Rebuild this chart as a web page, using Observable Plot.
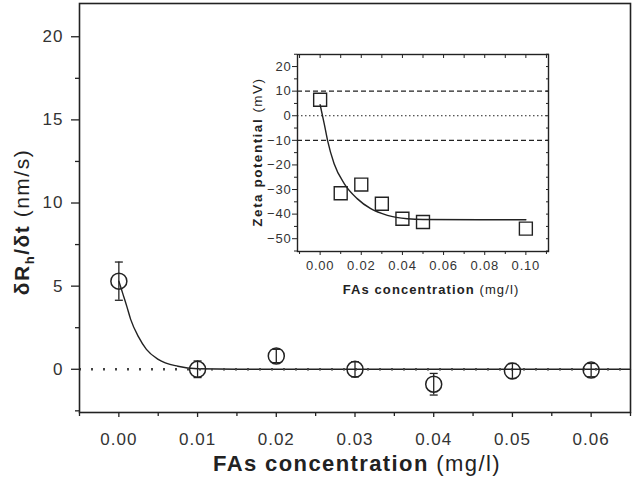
<!DOCTYPE html>
<html><head><meta charset="utf-8">
<script src="https://cdn.jsdelivr.net/npm/d3@7"></script>
<script src="https://cdn.jsdelivr.net/npm/@observablehq/plot@0.6"></script>
<style>
html,body{margin:0;padding:0;background:#fff;}
#wrap{position:relative;width:638px;height:478px;overflow:hidden;background:#fff;}
#wrap > svg{position:absolute;left:0;top:0;}
#wrap > svg.insetplot{left:230px;top:45px;}
.mainplot text{letter-spacing:1px;}
.insetplot text{letter-spacing:0.8px;}
</style></head><body><div id="wrap"></div>
<script>
// ---- main chart data ----
const mainX = [0, 0.01, 0.02, 0.03, 0.04, 0.05, 0.06];
const mainY = [5.3, 0, 0.8, 0, -0.9, -0.1, -0.05];
const mainErr = [1.15, 0.5, 0.4, 0.45, 0.65, 0.45, 0.4];
const mainFitX = [0, 0.0005, 0.001, 0.0015, 0.0025, 0.0035, 0.005, 0.0075, 0.01, 0.015, 0.02, 0.065];
const mainFitY = [5.3, 4.55, 3.8, 3.0, 1.95, 1.2, 0.6, 0.18, 0.03, 0, 0, 0];
const mainXTicks = [0, 0.01, 0.02, 0.03, 0.04, 0.05, 0.06];
const mainXMinor = [-0.005, 0.005, 0.015, 0.025, 0.035, 0.045, 0.055, 0.065];
const mainYTicks = [0, 5, 10, 15, 20];
const mainYMinor = [-2.5, 2.5, 7.5, 12.5, 17.5];

// ---- inset data ----
const insetX = [0, 0.01, 0.02, 0.03, 0.04, 0.05, 0.10];
const insetY = [6.5, -31.5, -28, -35.8, -41.9, -43.2, -45.9];
const insetFitX = [0, 0.002, 0.0036, 0.0068, 0.0117, 0.018, 0.0246, 0.0327, 0.0424, 0.05, 0.10];
const insetFitY = [4.5, -3.3, -10, -19.5, -27.6, -33.7, -37.8, -40.5, -41.9, -42.2, -42.3];
const insetXTicks = [0, 0.02, 0.04, 0.06, 0.08, 0.10];
const insetXMinor = [-0.01, 0.01, 0.03, 0.05, 0.07, 0.09, 0.11];
const insetYTicks = [-50, -40, -30, -20, -10, 0, 10, 20];
const insetYMinor = [-55, -45, -35, -25, -15, -5, 5, 15, 25];
const insetDashed = [10, -10];
const insetDotted = [0];

const ink = "#222";
const font = "'Liberation Sans', Arial, Helvetica, sans-serif";
const points = mainX.map((x, i) => ({x, y: mainY[i], e: mainErr[i]}));
const fit = mainFitX.map((x, i) => ({x, y: mainFitY[i]}));
const capSymbol = {draw(ctx, size) { const w = Math.sqrt(size) / 2; ctx.moveTo(-w, 0); ctx.lineTo(w, 0); }};
const blank = () => "";

const main = Plot.plot({
  className: "mainplot",
  width: 638, height: 478,
  marginLeft: 79, marginTop: 3, marginRight: 8, marginBottom: 66,
  style: {fontFamily: font, color: ink, background: "white"},
  x: {domain: [-0.005, 0.065]},
  y: {domain: [-2.6, 22]},
  marks: [
    Plot.axisX({ticks: mainXTicks, tickFormat: d3.format(".2f"), tickSize: 5, tickPadding: 15, fontSize: 17, label: null, strokeWidth: 1.3, fill: "#333"}),
    Plot.axisX({ticks: mainXMinor, tickFormat: blank, tickSize: 4, label: null, strokeWidth: 1.3}),
    Plot.axisY({ticks: mainYTicks, tickSize: 8, tickPadding: 8, fontSize: 17, label: null, strokeWidth: 1.3, fill: "#333"}),
    Plot.axisY({ticks: mainYMinor, tickFormat: blank, tickSize: 4, label: null, strokeWidth: 1.3}),
    Plot.line(fit, {x: "x", y: "y", stroke: ink, strokeWidth: 1.4, curve: "monotone-x"}),
    Plot.ruleY([0], {stroke: "#444", strokeWidth: 2.6, strokeDasharray: "2,10"}),
    Plot.ruleX(points, {x: "x", y1: d => d.y - d.e, y2: d => d.y + d.e, stroke: ink, strokeWidth: 1.3}),
    Plot.dot(points, {x: "x", y: d => d.y + d.e, symbol: capSymbol, r: 4.5, stroke: ink, fill: "none", strokeWidth: 1.3}),
    Plot.dot(points, {x: "x", y: d => d.y - d.e, symbol: capSymbol, r: 4.5, stroke: ink, fill: "none", strokeWidth: 1.3}),
    Plot.dot(points, {x: "x", y: "y", r: 8, stroke: ink, fill: "none", strokeWidth: 1.5}),
    Plot.frame({stroke: ink, strokeWidth: 1.6})
  ]
});

const ms = d3.select(main);
const yt = ms.append("text")
  .attr("transform", "translate(29,222) rotate(-90)")
  .attr("text-anchor", "middle")
  .attr("font-family", font).attr("font-size", 21).attr("fill", ink)
  .style("letter-spacing", "1.5px");
yt.append("tspan").attr("font-weight", "bold").text("δR");
yt.append("tspan").attr("font-weight", "bold").attr("font-size", 13).attr("dy", 5).text("h");
yt.append("tspan").attr("font-weight", "bold").attr("dy", -5).text("/δt");
yt.append("tspan").text(" (nm/s)");

const xt = ms.append("text")
  .attr("x", 357).attr("y", 471)
  .attr("text-anchor", "middle")
  .attr("font-family", font).attr("font-size", 22).attr("fill", ink)
  .style("letter-spacing", "1.4px");
xt.append("tspan").attr("font-weight", "bold").text("FAs concentration");
xt.append("tspan").text(" (mg/l)");

// ---- inset ----
const ipts = insetX.map((x, i) => ({x, y: insetY[i]}));
const ifit = insetFitX.map((x, i) => ({x, y: insetFitY[i]}));
const inset = Plot.plot({
  className: "insetplot",
  width: 330, height: 260,
  marginLeft: 67, marginTop: 9, marginRight: 12, marginBottom: 54,
  style: {fontFamily: font, color: ink, background: "transparent", overflow: "visible"},
  x: {domain: [-0.011, 0.111]},
  y: {domain: [-55.2, 24.9]},
  marks: [
    Plot.ruleY(insetDashed, {stroke: ink, strokeWidth: 1.2, strokeDasharray: "5,3"}),
    Plot.ruleY(insetDotted, {stroke: ink, strokeWidth: 1, strokeDasharray: "1.5,2.5"}),
    Plot.axisX({ticks: insetXTicks, tickFormat: d3.format(".2f"), tickSize: 4, tickPadding: 5, fontSize: 13, label: null, fill: "#333"}),
    Plot.axisX({ticks: insetXMinor, tickFormat: blank, tickSize: 3, label: null}),
    Plot.axisX({anchor: "top", ticks: insetXTicks.concat(insetXMinor), tickFormat: blank, tickSize: 3, dy: 3, label: null}),
    Plot.axisY({ticks: insetYTicks, tickSize: 5, tickPadding: 1, fontSize: 13, label: null, fill: "#333"}),
    Plot.axisY({ticks: insetYMinor, tickFormat: blank, tickSize: 3, label: null}),
    Plot.axisY({anchor: "right", ticks: insetYTicks.concat(insetYMinor), tickFormat: blank, tickSize: 3, dx: -3, label: null}),
    Plot.line(ifit, {x: "x", y: "y", stroke: ink, strokeWidth: 1.4, curve: "monotone-x"}),
    Plot.dot(ipts, {x: "x", y: "y", symbol: "square", r: 7.3, stroke: ink, fill: "none", strokeWidth: 1.4}),
    Plot.frame({stroke: ink, strokeWidth: 1.4})
  ]
});
const is = d3.select(inset);
const iyt = is.append("text")
  .attr("transform", "translate(32,107) rotate(-90)")
  .attr("text-anchor", "middle")
  .attr("font-family", font).attr("font-size", 13.5).attr("fill", ink)
  .style("letter-spacing", "1.5px");
iyt.append("tspan").attr("font-weight", "bold").text("Zeta potential");
iyt.append("tspan").text(" (mV)");
const ixt = is.append("text")
  .attr("x", 201).attr("y", 249)
  .attr("text-anchor", "middle")
  .attr("font-family", font).attr("font-size", 13).attr("fill", ink)
  .style("letter-spacing", "1.1px");
ixt.append("tspan").attr("font-weight", "bold").text("FAs concentration");
ixt.append("tspan").text(" (mg/l)");

const wrap = document.getElementById("wrap");
wrap.appendChild(main);
wrap.appendChild(inset);
</script>
</body></html>
